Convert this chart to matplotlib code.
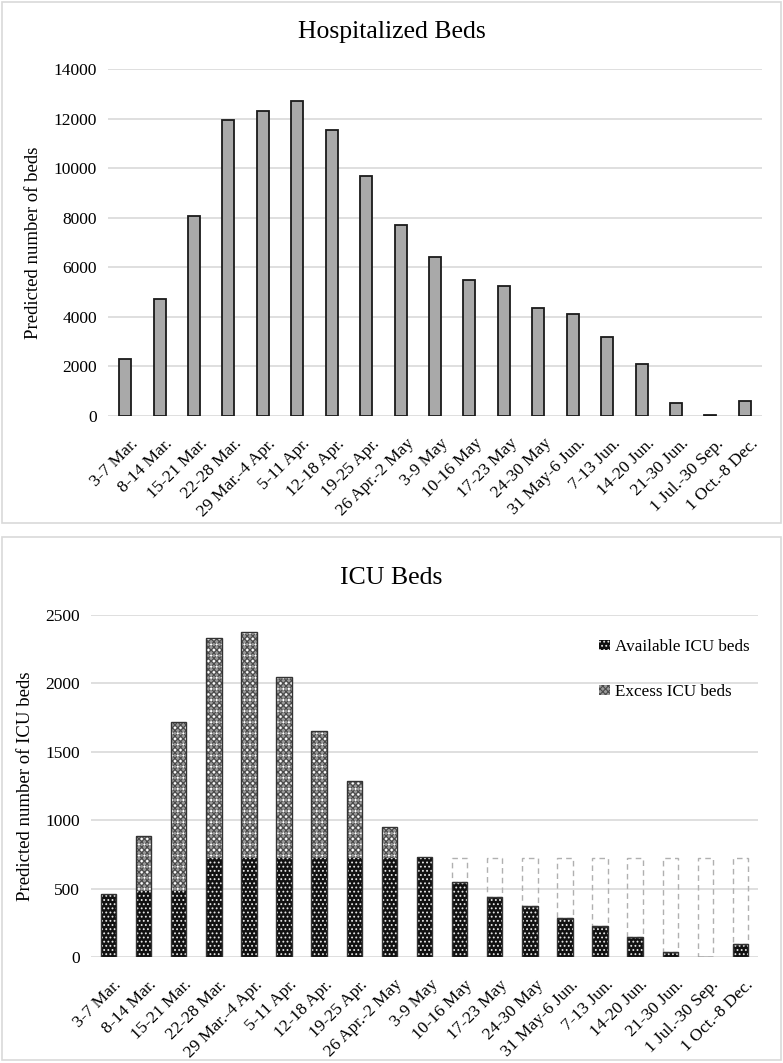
import numpy as np
import matplotlib
matplotlib.use("Agg")
import matplotlib.pyplot as plt
import matplotlib.transforms as mtransforms
from matplotlib.patches import Patch, Rectangle


plt.rcParams['font.family'] = ['Liberation Serif', 'DejaVu Serif']
plt.rcParams['hatch.linewidth'] = 0.8


# ============================================================================
# Data
# ============================================================================
weeks = ['3-7 Mar.', '8-14 Mar.', '15-21 Mar.', '22-28 Mar.', '29 Mar.-4 Apr.',
         '5-11 Apr.', '12-18 Apr.', '19-25 Apr.', '26 Apr.-2 May', '3-9 May',
         '10-16 May', '17-23 May', '24-30 May', '31 May-6 Jun.', '7-13 Jun.',
         '14-20 Jun.', '21-30 Jun.', '1 Jul.-30 Sep.', '1 Oct.-8 Dec.']

hospital_beds = [2280, 4730, 8080, 11960, 12290, 12710, 11540, 9700, 7720, 6430,
                 5470, 5250, 4360, 4110, 3170, 2090, 510, 30, 620]

icu_available = [465, 485, 485, 725, 725, 725, 725, 725, 725, 735,
                 550, 440, 375, 290, 230, 145, 40, 5, 100]
icu_excess = [0, 400, 1230, 1605, 1650, 1325, 925, 560, 230, 0,
              0, 0, 0, 0, 0, 0, 0, 0, 0]
# unused ICU capacity (dashed outline, not in legend)
icu_unused = [0, 0, 0, 0, 0, 0, 0, 0, 0, 0,
              175, 285, 350, 435, 495, 580, 685, 720, 625]

hosp_ticks = [0, 2000, 4000, 6000, 8000, 10000, 12000, 14000]
icu_ticks = [0, 500, 1000, 1500, 2000, 2500]

GRID = '#d9d9d9'
W, H = 783, 1063


def style_axes(ax, ticks, fig):
    ax.set_ylim(ticks[0], ticks[-1])
    ax.set_yticks(ticks)
    ax.set_xlim(-0.5, len(weeks) - 0.5)
    ax.set_xticks(np.arange(len(weeks)))
    ax.set_xticklabels(weeks, rotation=45, ha='right', va='top',
                       rotation_mode='anchor', fontsize=12.6)
    ax.tick_params(axis='both', length=0, labelsize=12.5)
    ax.tick_params(axis='x', labelsize=12.6, pad=14)
    ax.tick_params(axis='y', pad=8)
    # nudge rotated labels a little to the right, like the reference
    shift = mtransforms.ScaledTranslation(5 / 100, 0, fig.dpi_scale_trans)
    for lab in ax.get_xticklabels():
        lab.set_transform(lab.get_transform() + shift)
    for s in ax.spines.values():
        s.set_visible(False)
    ax.grid(axis='y', color=GRID, linewidth=1.2)
    ax.set_axisbelow(True)


fig = plt.figure(figsize=(W / 100, H / 100), dpi=100)

# panel frames
for (y0, y1) in [(2, 523), (537, 1060)]:
    fig.patches.append(Rectangle((2 / W, 1 - y1 / H), 779 / W, (y1 - y0) / H,
                                 transform=fig.transFigure, fill=False,
                                 edgecolor=GRID, linewidth=1.2))

# ============================================================================
# Hospitalized beds
# ============================================================================
ax1 = fig.add_axes([108 / W, 1 - 416 / H, 654 / W, 347 / H])
x = np.arange(len(weeks))
ax1.bar(x, hospital_beds, width=0.35, color='#a9a9a9', edgecolor='#1a1a1a',
        linewidth=1.3, zorder=3)
style_axes(ax1, hosp_ticks, fig)
ax1.set_ylabel('Predicted number of beds', fontsize=13.5, labelpad=8)
fig.text(0.5, 1 - 32 / H, 'Hospitalized Beds', ha='center', va='center', fontsize=18.5)

# ============================================================================
# ICU beds
# ============================================================================
ax2 = fig.add_axes([91 / W, 1 - 957.3 / H, 667 / W, 342.3 / H])
bw = 0.44
avail = np.array(icu_available)
excess = np.array(icu_excess)
unused = np.array(icu_unused)

ax2.bar(x, avail, width=bw, color='#111111', edgecolor='#e8e8e8', hatch='....',
        linewidth=0, zorder=3)
ax2.bar(x, excess, bottom=avail, width=bw, color='#9a9a9a', edgecolor='#4a4a4a',
        hatch='xxxxxx', linewidth=0, zorder=3)
ax2.bar(x, excess, bottom=avail, width=bw, fill=False, edgecolor='white',
        hatch='...', linewidth=0, zorder=3)
ax2.bar(x, avail + excess, width=bw, fill=False, edgecolor='#333333',
        linewidth=1.0, zorder=4)
m = unused > 0
ax2.bar(x[m], unused[m], bottom=avail[m], width=bw, fill=False,
        edgecolor='#b0b0b0', linestyle=(0, (4, 3)), linewidth=1.0, zorder=3)

style_axes(ax2, icu_ticks, fig)
ax2.set_ylabel('Predicted number of ICU beds', fontsize=13.5, labelpad=8)
fig.text(0.5, 1 - 578 / H, 'ICU Beds', ha='center', va='center', fontsize=18.5)

handles = [Patch(facecolor='#111111', edgecolor='#e8e8e8', hatch='....', linewidth=0),
           Patch(facecolor='#9a9a9a', edgecolor='#4a4a4a', hatch='xxxxxx', linewidth=0)]
ax2.legend(handles, ['Available ICU beds', 'Excess ICU beds'],
           loc='upper left', bbox_to_anchor=(0.762, 0.93), frameon=False,
           fontsize=12.3, handlelength=0.6, handleheight=0.6, handletextpad=0.3,
           labelspacing=1.7, borderpad=0, borderaxespad=0)

fig.savefig('out.png', dpi=100)
